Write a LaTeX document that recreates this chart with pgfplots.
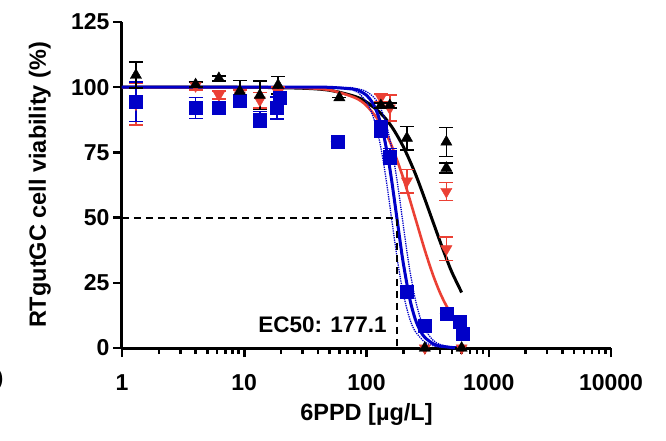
\documentclass[border=0pt]{standalone}
\usepackage{fontspec}
\setmainfont{Liberation Sans}
\usepackage{pgfplots}
\usepackage{pgfplotstable}
\pgfplotsset{compat=1.18}
\definecolor{myblue}{RGB}{0,0,200}
\definecolor{myred}{RGB}{235,64,52}

\pgfplotstableread{
x y e
1.3 94.4 7.5
4.0 92.0 4.0
6.2 92.3 1.5
9.2 95.0 2.0
13.4 87.7 3.0
18.5 92.0 4.2
19.5 96.0 1.5
58 79 0
131 84 3
155 73.5 3
213 21.6 2
300 8.4 1
452 13.3 0
580 10.1 0
617 5.6 0
}\bluedata

\pgfplotstableread{
x y e
1.3 93.5 8
4.0 100.5 1.5
6.2 97 1.5
9.2 97 2
13.4 95 3
18.9 98 2
131 96 1.5
155 92 5
214 64 4.5
450 60 3.5
450 38 4.5
300 0 0
600 0 0
}\reddata

\pgfplotstableread{
x y e
1.3 104.6 5
4.0 101 1
6.2 103.4 1
9.2 98.5 4
13.4 96.9 5.5
18.9 100.8 3.3
60 96 0
131 93 1
155 93 1
214 80.5 4.5
450 79 5.5
450 69 2
300 0 0
600 0 0
}\blackdata

\begin{document}
\begin{tikzpicture}
\begin{axis}[
  scale only axis, width=489pt, height=326pt,
  xmode=log, xmin=1, xmax=10000, ymin=0, ymax=125,
  axis x line=bottom, axis y line=left,
  axis line style={-, line width=3pt},
  clip=false,
  xtick={1,10,100,1000,10000},
  xticklabels={1,10,100,1000,10000},
  minor xtick={2,3,4,5,6,7,8,9,20,30,40,50,60,70,80,90,200,300,400,500,600,700,800,900,2000,3000,4000,5000,6000,7000,8000,9000},
  ytick={0,25,50,75,100,125},
  tick align=outside,
  major tick length=9pt, minor tick length=6pt,
  every tick/.style={black, line width=2.5pt},
  tick label style={font=\fontsize{23}{23}\selectfont\bfseries},
  xticklabel style={yshift=-14pt},
  /pgf/number format/assume math mode=true,
  xlabel={6PPD [µg/L]},
  ylabel={RTgutGC cell viability (\%)},
  label style={font=\fontsize{23.5}{27}\selectfont\bfseries},
  xlabel style={at={(axis description cs:0.5,-0.205)}, anchor=center},
  ylabel style={at={(axis description cs:-0.168,0.5)}, anchor=center},
]
% fitted curves
\addplot[black, line width=3pt, smooth] coordinates {(1,100) (10,99.97) (30,99.6) (50,98.8) (80,96.5) (100,94.3) (130,90.1) (160,85.0) (200,77.2) (250,67.0) (300,57.1) (340,50) (400,40.8) (450,34.4) (500,29.0) (600,21.3)};
\addplot[myred, line width=2.6pt, smooth] coordinates {(1,100) (10,99.99) (20,99.92) (30,99.74) (50,98.9) (80,96.0) (100,92.9) (130,86.2) (160,77.7) (200,65.1) (250,50) (300,37.5) (350,28.0) (400,21.1) (450,16.2) (500,12.6) (600,7.9)};
\addplot[myblue, line width=1.3pt, densely dotted, smooth] coordinates {(1,100) (50,99.9) (80,98.5) (90,96.9) (100,94.4) (110,90.4) (120,84.9) (130,77.7) (140,69.0) (150,59.6) (160,50) (180,33.0) (200,20.8) (225,11.4) (250,6.43) (300,2.25) (350,0.9) (400,0.41) (600,0.04)};
\addplot[myblue, line width=1.3pt, densely dotted, smooth] coordinates {(1,100) (50,99.97) (80,99.5) (100,98.3) (120,95.0) (140,88.3) (160,77.2) (180,62.5) (196,50) (210,39.8) (225,30.4) (250,18.9) (275,11.6) (300,7.2) (350,3.0) (400,1.37) (500,0.36) (600,0.12)};
\addplot[myblue, line width=3pt, smooth] coordinates {(1,100) (30,100) (50,99.95) (80,99.2) (90,98.3) (100,96.9) (110,94.6) (120,91.2) (130,86.5) (140,80.4) (150,73.0) (160,64.8) (177.1,50) (190,39.6) (200,32.5) (225,19.2) (250,11.2) (275,6.66) (300,4.07) (350,1.65) (400,0.75) (500,0.2) (600,0.07)};
% EC50 guide
\addplot[black, line width=2.2pt, dash pattern=on 7pt off 5pt] coordinates {(1,50) (177.1,50) (177.1,0)};
\node[anchor=east, inner sep=0pt, font=\fontsize{22.5}{22.5}\selectfont\bfseries] at (axis cs:147,8.8) {EC50: 177.1};
% data
\addplot[only marks, mark=triangle*, mark size=6.5pt, color=myred, mark options={rotate=180, fill=myred},
  error bars/.cd, y dir=both, y explicit,
  error bar style={line width=1.6pt, myred},
  error mark options={rotate=90, mark size=7pt, line width=1.6pt, myred}]
  table[x=x, y=y, y error=e] {\reddata};
\addplot[only marks, mark=square*, mark size=6.5pt, color=myblue, mark options={fill=myblue},
  error bars/.cd, y dir=both, y explicit,
  error bar style={line width=1.6pt, myblue},
  error mark options={rotate=90, mark size=7pt, line width=1.6pt, myblue}]
  table[x=x, y=y, y error=e] {\bluedata};
\addplot[only marks, mark=triangle*, mark size=6.5pt, color=black, mark options={fill=black},
  error bars/.cd, y dir=both, y explicit,
  error bar style={line width=1.6pt, black},
  error mark options={rotate=90, mark size=7pt, line width=1.6pt, black}]
  table[x=x, y=y, y error=e] {\blackdata};
\end{axis}
\node[anchor=east, inner sep=0pt, font=\fontsize{40}{40}\selectfont\bfseries] at (-117pt,-32pt) {D};
\pgfresetboundingbox
\useasboundingbox (-122pt,-92pt) rectangle (544pt,348pt);
\end{tikzpicture}
\end{document}
